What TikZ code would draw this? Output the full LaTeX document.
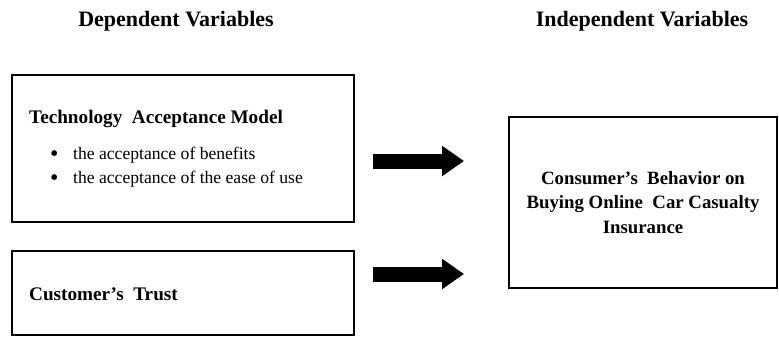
\documentclass[tikz,border=0pt]{standalone}
\usepackage{fontspec}
\setmainfont{Liberation Serif}
\usetikzlibrary{arrows.meta}
\usetikzlibrary{positioning}

\begin{document}
\begin{tikzpicture}
    [
    x=1pt,y=-1pt,
    varbox/.style={draw,line width=2pt,inner sep=0pt},
    heading/.style={font=\fontsize{22}{26}\selectfont\bfseries,inner sep=0pt},
    boxtitle/.style={font=\fontsize{19.2}{22}\selectfont\bfseries,inner sep=0pt,anchor=base west},
    itemtext/.style={font=\fontsize{17.6}{20}\selectfont,inner sep=0pt,anchor=base west},
    bigarrow/.style={line width=15pt,-{Triangle[length=22pt 0,width=29pt 0]}},
    ]
    \useasboundingbox (0,0) rectangle (779,337);

    % column headings
    \node (dep) at (176,21) [heading] {Dependent Variables};
    \node (indep) at (642,21) [heading] {Independent Variables};

    % boxes
    \node (tam) at (183,148.5) [varbox,minimum width=342pt,minimum height=147pt] {};
    \node (trust) at (183,293) [varbox,minimum width=342pt,minimum height=84pt] {};
    \node (cons) at (643,202.5) [varbox,minimum width=268pt,minimum height=171pt,
      align=center,font=\fontsize{18.8}{24.5}\selectfont\bfseries]
      {Consumer's\ \ Behavior on\\Buying Online\ \ Car Casualty\\Insurance};

    % box texts
    \node (tamtitle) at (29,123) [boxtitle] {Technology\ \ Acceptance Model};
    \node (b1) at (50,161) [itemtext,font=\fontsize{24}{24}\selectfont] {\textbullet};
    \node (i1) at (73,159) [itemtext] {the acceptance of\ benefits};
    \node (b2) at (50,185) [itemtext,font=\fontsize{24}{24}\selectfont] {\textbullet};
    \node (i2) at (73,183) [itemtext] {the acceptance of\ the ease of use};
    \node (trusttitle) at (29,300) [boxtitle] {Customer's\ \ Trust};

    % arrows
    \coordinate (a1s) at (373,161);
    \coordinate (a1e) at (464,161);
    \coordinate (a2s) at (373,274);
    \coordinate (a2e) at (464,274);
    \draw [bigarrow] (a1s) to (a1e);
    \draw [bigarrow] (a2s) to (a2e);
  \end{tikzpicture}
\end{document}
